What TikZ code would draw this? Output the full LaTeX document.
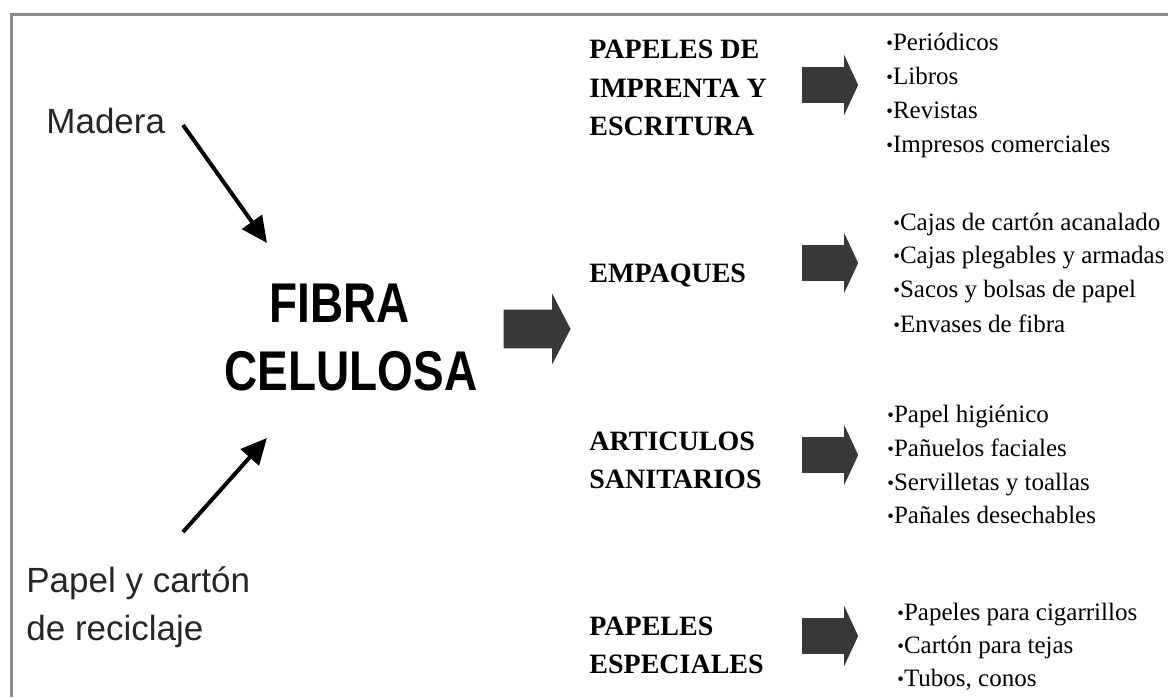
\documentclass[tikz,border=0pt]{standalone}
\usepackage{fontspec}
\setmainfont{Liberation Serif}
\setsansfont{Liberation Sans}
\newfontfamily\narrowsans[FakeStretch=0.82]{Liberation Sans}
\usetikzlibrary{shapes.arrows,arrows.meta}
\pgfdeclarelayer{bg}
\pgfsetlayers{bg,main}
\definecolor{framegray}{HTML}{8C8C8C}
\definecolor{arrowgray}{HTML}{383838}
\definecolor{textgray}{HTML}{262626}
\newcommand{\itemdot}{\raisebox{0.3pt}{\fontsize{9.5}{9.5}\selectfont\textbullet}}

\begin{document}
\begin{tikzpicture}[x=0.5pt,y=-0.5pt,
        src/.style={anchor=base west, inner sep=0pt, text=textgray, font=\sffamily\fontsize{17.5}{21}\selectfont},
        big/.style={anchor=base, inner sep=0pt, font=\narrowsans\bfseries\fontsize{28}{32}\selectfont},
        head/.style={anchor=base west, inner sep=0pt, font=\bfseries\fontsize{14}{17}\selectfont},
        item/.style={anchor=base west, inner sep=0pt, font=\fontsize{12.5}{15}\selectfont},
        blk/.style={shape=single arrow, fill=arrowgray, draw=none, inner xsep=0pt, inner ysep=8.75pt,
                minimum height=28pt, minimum width=30pt, single arrow head extend=6.25pt, single arrow tip angle=130},
        thin/.style={line width=2pt, -{Triangle[length=13pt,width=12pt]}}]
        \useasboundingbox (0,0) rectangle (1168,697);
        \draw [framegray, line width=1.5pt] (1168,14) -- (11,14) -- (11,697);
        \node (s0) [src] at (46,133) {Madera};
        \node (s1) [src] at (26,592) {Papel y cartón};
        \node (s2) [src] at (26,640) {de reciclaje};
        \node (f0) [big] at (340,322) {FIBRA};
        \node (f1) [big] at (351,390) {CELULOSA};
        \node (c0) [blk, inner ysep=9.5pt, minimum height=33.5pt, minimum width=35pt,
                single arrow head extend=8pt, single arrow tip angle=125] at (532,329) {};
        \coordinate (m0) at (183,125);
        \coordinate (m1) at (267,243);
        \coordinate (p0) at (183,532);
        \coordinate (p1) at (267,438);
        \node (h0) [head] at (589,58) {PAPELES DE};
        \node (h1) [head] at (589,97) {IMPRENTA Y};
        \node (h2) [head] at (589,135) {ESCRITURA};
        \node (h3) [head] at (589,282) {EMPAQUES};
        \node (h4) [head] at (589,450) {ARTICULOS};
        \node (h5) [head] at (589,488) {SANITARIOS};
        \node (h6) [head] at (589,635) {PAPELES};
        \node (h7) [head] at (589,673) {ESPECIALES};
        \node (b0) [blk] at (826,85) {};
        \node (b1) [blk] at (826,263) {};
        \node (b2) [blk] at (826,455) {};
        \node (b3) [blk] at (826,636) {};
        \node (l0) [item] at (886,50) {\itemdot Periódicos};
        \node (l1) [item] at (886,84) {\itemdot Libros};
        \node (l2) [item] at (886,118) {\itemdot Revistas};
        \node (l3) [item] at (886,152) {\itemdot Impresos comerciales};
        \node (l4) [item] at (893,230) {\itemdot Cajas de cartón acanalado};
        \node (l5) [item] at (893,263) {\itemdot Cajas plegables y armadas};
        \node (l6) [item] at (893,297) {\itemdot Sacos y bolsas de papel};
        \node (l7) [item] at (893,332) {\itemdot Envases de fibra};
        \node (l8) [item] at (887,422) {\itemdot Papel higiénico};
        \node (l9) [item] at (887,456) {\itemdot Pañuelos faciales};
        \node (l10) [item] at (887,490) {\itemdot Servilletas y toallas};
        \node (l11) [item] at (887,523) {\itemdot Pañales desechables};
        \node (l12) [item] at (897,620) {\itemdot Papeles para cigarrillos};
        \node (l13) [item] at (897,653) {\itemdot Cartón para tejas};
        \node (l14) [item] at (897,686) {\itemdot Tubos, conos};
        \begin{pgfonlayer}{bg}
                \draw [thin] (m0) -- (m1);
                \draw [thin] (p0) -- (p1);
        \end{pgfonlayer}
\end{tikzpicture}
\end{document}
